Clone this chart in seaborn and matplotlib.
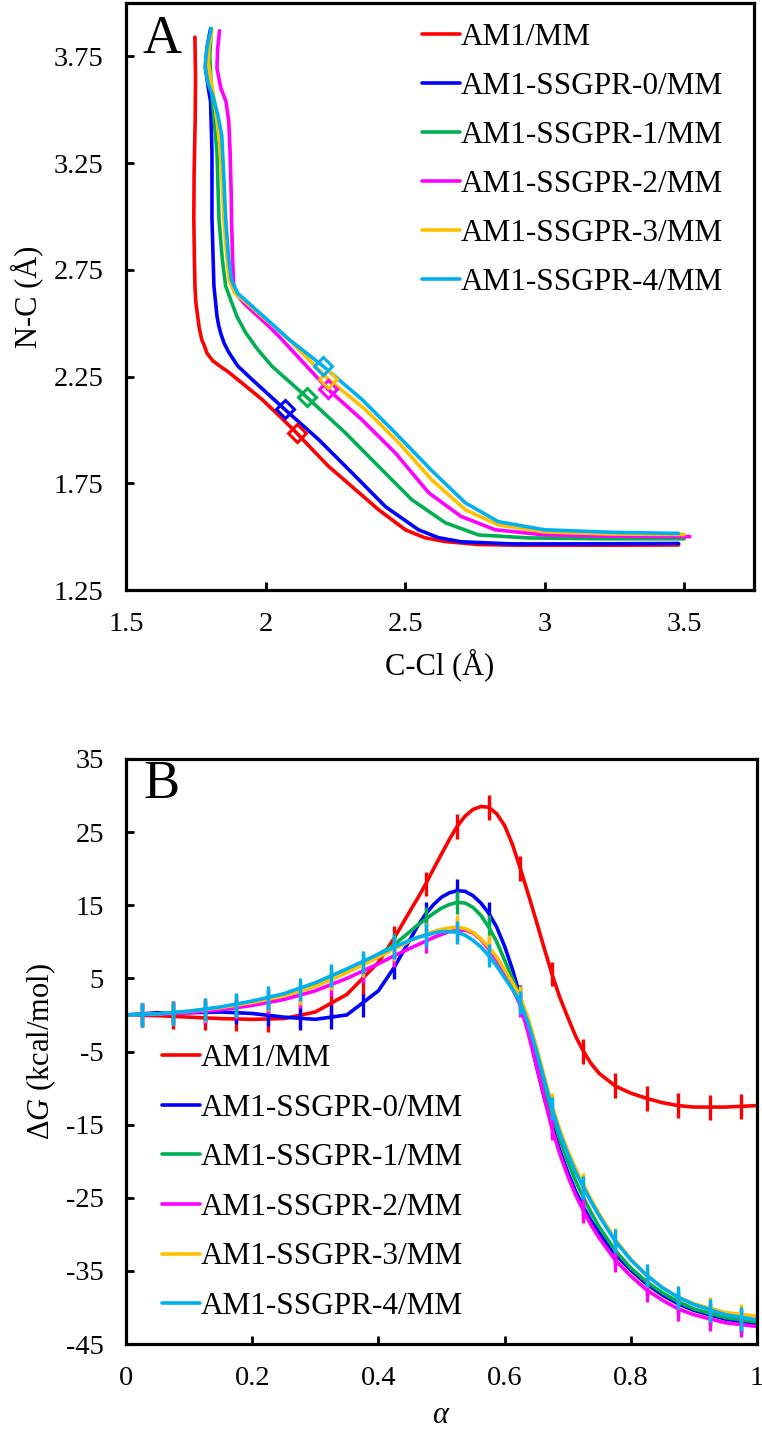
import numpy as np
import pandas as pd
import matplotlib
matplotlib.use("Agg")
import matplotlib.pyplot as plt
import seaborn as sns
from matplotlib.ticker import FuncFormatter

# ---------------- data ----------------
series_names = ["AM1/MM", "AM1-SSGPR-0/MM", "AM1-SSGPR-1/MM",
                "AM1-SSGPR-2/MM", "AM1-SSGPR-3/MM", "AM1-SSGPR-4/MM"]
series_colors = ["#FF0000", "#0000FF", "#00B050", "#FF00FF", "#FFC000", "#00B0F0"]

# Panel A: minimum free energy paths (C-Cl vs N-C, in Angstrom)
ccl_am1 = [1.747, 1.749, 1.748, 1.744, 1.743, 1.745, 1.747, 1.750, 1.755, 1.762, 1.772, 1.779,
           1.790, 1.810, 1.835, 1.865, 1.920, 1.987, 2.050, 2.111, 2.170, 2.226, 2.309, 2.405,
           2.501, 2.570, 2.644, 2.763, 2.900, 3.100, 3.300, 3.480]
nc_am1 = [3.84, 3.65, 3.46, 3.20, 2.99, 2.80, 2.675, 2.60, 2.55, 2.48, 2.42, 2.40,
          2.36, 2.325, 2.30, 2.273, 2.215, 2.143, 2.065, 1.986, 1.905, 1.829, 1.735, 1.626,
          1.532, 1.495, 1.477, 1.463, 1.460, 1.460, 1.460, 1.461]

ccl_s0 = [1.803, 1.790, 1.785, 1.795, 1.803, 1.808, 1.808, 1.815, 1.826, 1.832, 1.840, 1.852,
          1.868, 1.900, 1.951, 2.069, 2.190, 2.309, 2.430, 2.548, 2.620, 2.700, 2.880, 3.100,
          3.300, 3.480]
nc_s0 = [3.88, 3.79, 3.694, 3.60, 3.538, 3.30, 2.99, 2.674, 2.533, 2.49, 2.45, 2.405,
         2.364, 2.30, 2.237, 2.096, 1.955, 1.80, 1.64, 1.532, 1.495, 1.476, 1.466, 1.466,
         1.467, 1.468]

ccl_s1 = [1.806, 1.800, 1.804, 1.808, 1.818, 1.826, 1.833, 1.845, 1.857, 1.875, 1.897, 1.928,
          1.970, 2.023, 2.149, 2.286, 2.405, 2.524, 2.644, 2.763, 2.942, 3.200, 3.500]
nc_s1 = [3.88, 3.75, 3.65, 3.567, 3.42, 3.30, 2.99, 2.80, 2.674, 2.61, 2.533, 2.457,
         2.38, 2.298, 2.152, 1.986, 1.829, 1.673, 1.565, 1.508, 1.494, 1.490, 1.490]

ccl_s2 = [1.835, 1.828, 1.826, 1.840, 1.858, 1.868, 1.873, 1.877, 1.878, 1.882, 1.886, 1.900,
          1.925, 1.958, 2.000, 2.047, 2.224, 2.344, 2.465, 2.584, 2.700, 2.823, 3.000, 3.250,
          3.520]
nc_s2 = [3.87, 3.78, 3.694, 3.60, 3.54, 3.45, 3.30, 3.10, 2.99, 2.80, 2.674, 2.63,
         2.59, 2.55, 2.50, 2.44, 2.19, 2.049, 1.892, 1.706, 1.595, 1.532, 1.508, 1.502,
         1.500]

ccl_s3 = [1.808, 1.797, 1.795, 1.805, 1.815, 1.835, 1.845, 1.850, 1.862, 1.870, 1.890, 1.928,
          1.980, 2.071, 2.223, 2.357, 2.477, 2.595, 2.716, 2.834, 3.000, 3.250, 3.500]
nc_s3 = [3.87, 3.79, 3.72, 3.63, 3.56, 3.35, 3.15, 2.99, 2.80, 2.70, 2.64, 2.60,
         2.54, 2.44, 2.24, 2.096, 1.94, 1.767, 1.626, 1.555, 1.522, 1.512, 1.510]

ccl_s4 = [1.805, 1.790, 1.783, 1.795, 1.812, 1.830, 1.843, 1.850, 1.857, 1.868, 1.878, 1.900,
          1.935, 1.964, 2.020, 2.083, 2.205, 2.345, 2.465, 2.595, 2.716, 2.834, 3.000, 3.250,
          3.480]
nc_s4 = [3.88, 3.79, 3.70, 3.62, 3.56, 3.47, 3.38, 3.20, 2.99, 2.80, 2.70, 2.64,
         2.60, 2.565, 2.50, 2.425, 2.30, 2.143, 1.986, 1.81, 1.658, 1.57, 1.532, 1.52,
         1.515]

# transition-state markers (C-Cl, N-C)
ts_ccl = [2.111, 2.069, 2.149, 2.224, 2.223, 2.205]
ts_nc = [1.986, 2.096, 2.152, 2.190, 2.240, 2.300]

# Panel B: free energy profiles along alpha
alpha_line = [0, 0.05, 0.1, 0.15, 0.2, 0.25, 0.3, 0.35, 0.4, 0.425, 0.45,
              0.4625, 0.475, 0.4875, 0.5, 0.5125, 0.525, 0.5375, 0.55, 0.5625, 0.575,
              0.5875, 0.6, 0.6125, 0.625, 0.6375, 0.65, 0.6625, 0.675, 0.6875, 0.7,
              0.7125, 0.725, 0.7375, 0.75, 0.775, 0.8, 0.825, 0.85, 0.875, 0.9, 0.95, 1.0]
dg_am1 = [0.0, -0.1, -0.3, -0.5, -0.6, -0.5, 0.4, 2.8, 7.2, 10.5, 14.2,
          16.0, 17.9, 20.0, 22.0, 24.0, 25.8, 27.2, 28.1, 28.5, 28.4,
          27.5, 25.9, 23.3, 20.0, 16.5, 12.9, 9.2, 5.6, 2.4, -0.3,
          -2.9, -5.0, -6.7, -8.0, -9.7, -10.7, -11.4, -12.0, -12.4, -12.6, -12.6, -12.4]
dg_s0 = [0.0, 0.3, 0.3, 0.4, 0.2, -0.3, -0.6, 0.0, 3.3, 6.5, 10.3,
         12.2, 13.8, 15.1, 16.1, 16.7, 17.0, 16.9, 16.3, 15.3, 13.9,
         12.0, 9.4, 6.2, 2.5, -2.0, -6.8, -11.2, -15.0, -18.5, -21.5,
         -24.1, -26.3, -28.2, -29.8, -32.7, -34.9, -36.8, -38.3, -39.5, -40.4, -41.6, -42.2]
dg_s1 = [0.0, 0.15, 0.5, 1.0, 1.7, 2.6, 4.0, 6.0, 8.3, 9.6, 11.4,
         12.3, 13.1, 13.9, 14.6, 15.1, 15.4, 15.3, 14.7, 13.6, 12.0,
         10.0, 7.5, 5.0, 2.3, -1.5, -5.5, -9.7, -13.5, -17.0, -20.0,
         -22.7, -25.0, -27.1, -29.0, -32.2, -34.6, -36.5, -38.0, -39.2, -40.2, -41.4, -42.0]
dg_s2 = [0.0, 0.1, 0.3, 0.7, 1.3, 2.1, 3.3, 5.0, 7.0, 8.1, 9.1,
         9.6, 10.1, 10.6, 11.0, 11.4, 11.6, 11.6, 11.2, 10.3, 9.0,
         7.5, 5.6, 3.6, 1.3, -2.5, -6.8, -11.2, -15.5, -19.0, -22.0,
         -24.6, -26.8, -28.8, -30.5, -33.5, -35.7, -37.6, -39.0, -40.2, -41.0, -42.1, -42.6]
dg_s3 = [0.0, 0.15, 0.5, 1.0, 1.7, 2.6, 3.9, 5.8, 7.9, 9.0, 10.1,
         10.6, 11.0, 11.4, 11.7, 11.9, 12.0, 11.8, 11.3, 10.4, 9.3,
         7.9, 6.2, 4.4, 2.4, -0.5, -4.2, -8.3, -12.3, -15.7, -18.5,
         -21.0, -23.2, -25.3, -27.2, -30.7, -33.4, -35.6, -37.3, -38.6, -39.5, -40.7, -41.2]
dg_s4 = [0.0, 0.15, 0.5, 1.1, 1.9, 2.9, 4.4, 6.3, 8.3, 9.3, 10.2,
         10.6, 10.9, 11.2, 11.4, 11.4, 11.3, 10.9, 10.2, 9.3, 8.1,
         6.7, 5.1, 3.5, 1.7, -1.2, -4.8, -8.8, -12.8, -16.2, -19.0,
         -21.5, -23.6, -25.6, -27.5, -30.9, -33.5, -35.6, -37.3, -38.6, -39.6, -41.0, -41.7]

alpha_bar = [0.025, 0.075, 0.125, 0.175, 0.225, 0.275, 0.325, 0.375, 0.425, 0.475,
             0.525, 0.575, 0.625, 0.675, 0.725, 0.775, 0.825, 0.875, 0.925, 0.975]
bar_am1 = [0.0, -0.2, -0.4, -0.5, -0.6, -0.2, 1.3, 4.3, 10.5, 17.9,
           25.8, 28.4, 20.0, 5.6, -5.0, -9.7, -11.4, -12.4, -12.6, -12.5]
bar_s0 = [0.1, 0.3, 0.3, 0.4, 0.1, -0.4, -0.3, 1.3, 6.5, 13.8,
          17.0, 13.9, 2.5, -15.0, -26.3, -32.7, -36.8, -39.5, -41.0, -41.9]
bar_s1 = [0.0, 0.2, 0.6, 1.2, 2.0, 3.1, 4.9, 7.0, 9.6, 13.1,
          15.4, 12.0, 2.3, -13.5, -25.0, -32.2, -36.5, -39.2, -40.8, -41.8]
bar_s2 = [0.0, 0.2, 0.4, 1.0, 1.7, 2.6, 4.2, 6.0, 8.1, 10.1,
          11.6, 9.0, 1.3, -15.5, -26.8, -33.5, -37.6, -40.2, -41.6, -42.4]
bar_s3 = [0.0, 0.2, 0.7, 1.3, 2.2, 3.0, 5.0, 6.8, 9.0, 11.0,
          12.0, 9.3, 2.4, -12.3, -23.2, -30.7, -35.6, -38.6, -40.2, -41.1]
bar_s4 = [0.0, 0.2, 0.75, 1.35, 2.3, 3.5, 5.4, 7.2, 9.3, 10.9,
          11.3, 8.1, 1.7, -12.8, -23.6, -30.9, -35.6, -38.6, -40.4, -41.6]
bar_err = [1.7, 1.6, 1.6, 1.6, 1.6, 1.6]

xticks_a = [1.5, 2.0, 2.5, 3.0, 3.5]
yticks_a = [1.25, 1.75, 2.25, 2.75, 3.25, 3.75]
xticks_b = [0, 0.2, 0.4, 0.6, 0.8, 1.0]
yticks_b = [-45, -35, -25, -15, -5, 5, 15, 25, 35]

paths_a = [(ccl_am1, nc_am1), (ccl_s0, nc_s0), (ccl_s1, nc_s1),
           (ccl_s2, nc_s2), (ccl_s3, nc_s3), (ccl_s4, nc_s4)]
profiles_b = [dg_am1, dg_s0, dg_s1, dg_s2, dg_s3, dg_s4]
bars_b = [bar_am1, bar_s0, bar_s1, bar_s2, bar_s3, bar_s4]

# ---------------- style ----------------
sns.set_theme(style="white")
plt.rcParams["font.family"] = ["Liberation Serif", "DejaVu Serif"]
plt.rcParams["mathtext.fontset"] = "custom"
plt.rcParams["mathtext.rm"] = "Liberation Serif"
plt.rcParams["mathtext.it"] = "Liberation Serif:italic"
plt.rcParams["text.color"] = "black"
plt.rcParams["axes.labelcolor"] = "black"
plt.rcParams["lines.solid_joinstyle"] = "round"
plt.rcParams["lines.solid_capstyle"] = "round"

W, H = 762, 1434
fig = plt.figure(figsize=(W / 100, H / 100), dpi=100)
fig.patch.set_facecolor("white")

def frac(x0, y0, x1, y1):
    return [x0 / W, 1 - y1 / H, (x1 - x0) / W, (y1 - y0) / H]

axA = fig.add_axes(frac(126, 3, 754, 590))
axB = fig.add_axes(frac(126, 759, 757, 1344))

TICK_FS = 20.5
LAB_FS = 22
LEG_FS = 22.5
fmt = FuncFormatter(lambda v, p: "%g" % v)

def style_axes(ax):
    for s in ax.spines.values():
        s.set_visible(True)
        s.set_color("black")
        s.set_linewidth(2.3)
    ax.tick_params(axis="both", which="both", direction="in", length=6, width=2,
                   colors="black", labelsize=TICK_FS, top=False, right=False,
                   bottom=True, left=True)
    ax.tick_params(axis="x", pad=16)
    ax.tick_params(axis="y", pad=16)
    ax.grid(False)
    ax.set_facecolor("white")

# ---------------- panel A ----------------
for name, col, (cx, ny) in zip(series_names, series_colors, paths_a):
    df = pd.DataFrame({"ccl": cx, "nc": ny})
    sns.lineplot(data=df, x="ccl", y="nc", sort=False, estimator=None, ax=axA,
                 color=col, linewidth=2.6, label=name)
for i, col in enumerate(series_colors):
    axA.plot(ts_ccl[i], ts_nc[i], marker="D", markersize=9, markerfacecolor="none",
             markeredgecolor=col, markeredgewidth=2.2, linestyle="none", zorder=5)

axA.set_xlim(1.5, 3.75)
axA.set_ylim(1.25, 4.0)
axA.set_xticks(xticks_a)
axA.set_yticks(yticks_a)
axA.xaxis.set_major_formatter(fmt)
axA.yaxis.set_major_formatter(FuncFormatter(lambda v, p: "%.2f" % v))
style_axes(axA)
axA.set_xlabel("C-Cl (Å)", fontsize=LAB_FS, labelpad=8)
axA.set_ylabel("N-C (Å)", fontsize=LAB_FS, labelpad=8)
axA.text(0.027, 0.915, "A", transform=axA.transAxes, fontsize=39, ha="left",
         va="baseline")
legA = axA.legend(loc="upper left", bbox_to_anchor=(422 / W, 1 - 23 / H),
                  bbox_transform=fig.transFigure, frameon=False, fontsize=LEG_FS,
                  handlelength=1.2, handletextpad=0.05, labelspacing=0.64,
                  borderpad=0, borderaxespad=0)
for h in legA.get_lines():
    h.set_linewidth(2.6)

# ---------------- panel B ----------------
for name, col, dg, bv, e in zip(series_names, series_colors, profiles_b, bars_b, bar_err):
    df = pd.DataFrame({"alpha": alpha_line, "dg": dg})
    sns.lineplot(data=df, x="alpha", y="dg", estimator=None, ax=axB, color=col,
                 linewidth=2.6, label=name)
    axB.errorbar(alpha_bar, bv, yerr=e, fmt="none", ecolor=col, elinewidth=2.4,
                 capsize=0)

axB.set_xlim(0, 1)
axB.set_ylim(-45, 35)
axB.set_xticks(xticks_b)
axB.set_yticks(yticks_b)
axB.xaxis.set_major_formatter(fmt)
axB.yaxis.set_major_formatter(fmt)
style_axes(axB)
axB.set_xlabel(r"$\alpha$", fontsize=LAB_FS, labelpad=7)
axB.set_ylabel(r"Δ$G$ (kcal/mol)", fontsize=LAB_FS, labelpad=6)
axB.text(0.027, 0.933, "B", transform=axB.transAxes, fontsize=39, ha="left",
         va="baseline")
legB = axB.legend(loc="upper left", bbox_to_anchor=(162 / W, 1 - 1044 / H),
                  bbox_transform=fig.transFigure, frameon=False, fontsize=LEG_FS,
                  handlelength=1.2, handletextpad=0.05, labelspacing=0.66,
                  borderpad=0, borderaxespad=0)
for h in legB.get_lines():
    h.set_linewidth(2.6)

fig.savefig("out.png", dpi=100, facecolor="white")
